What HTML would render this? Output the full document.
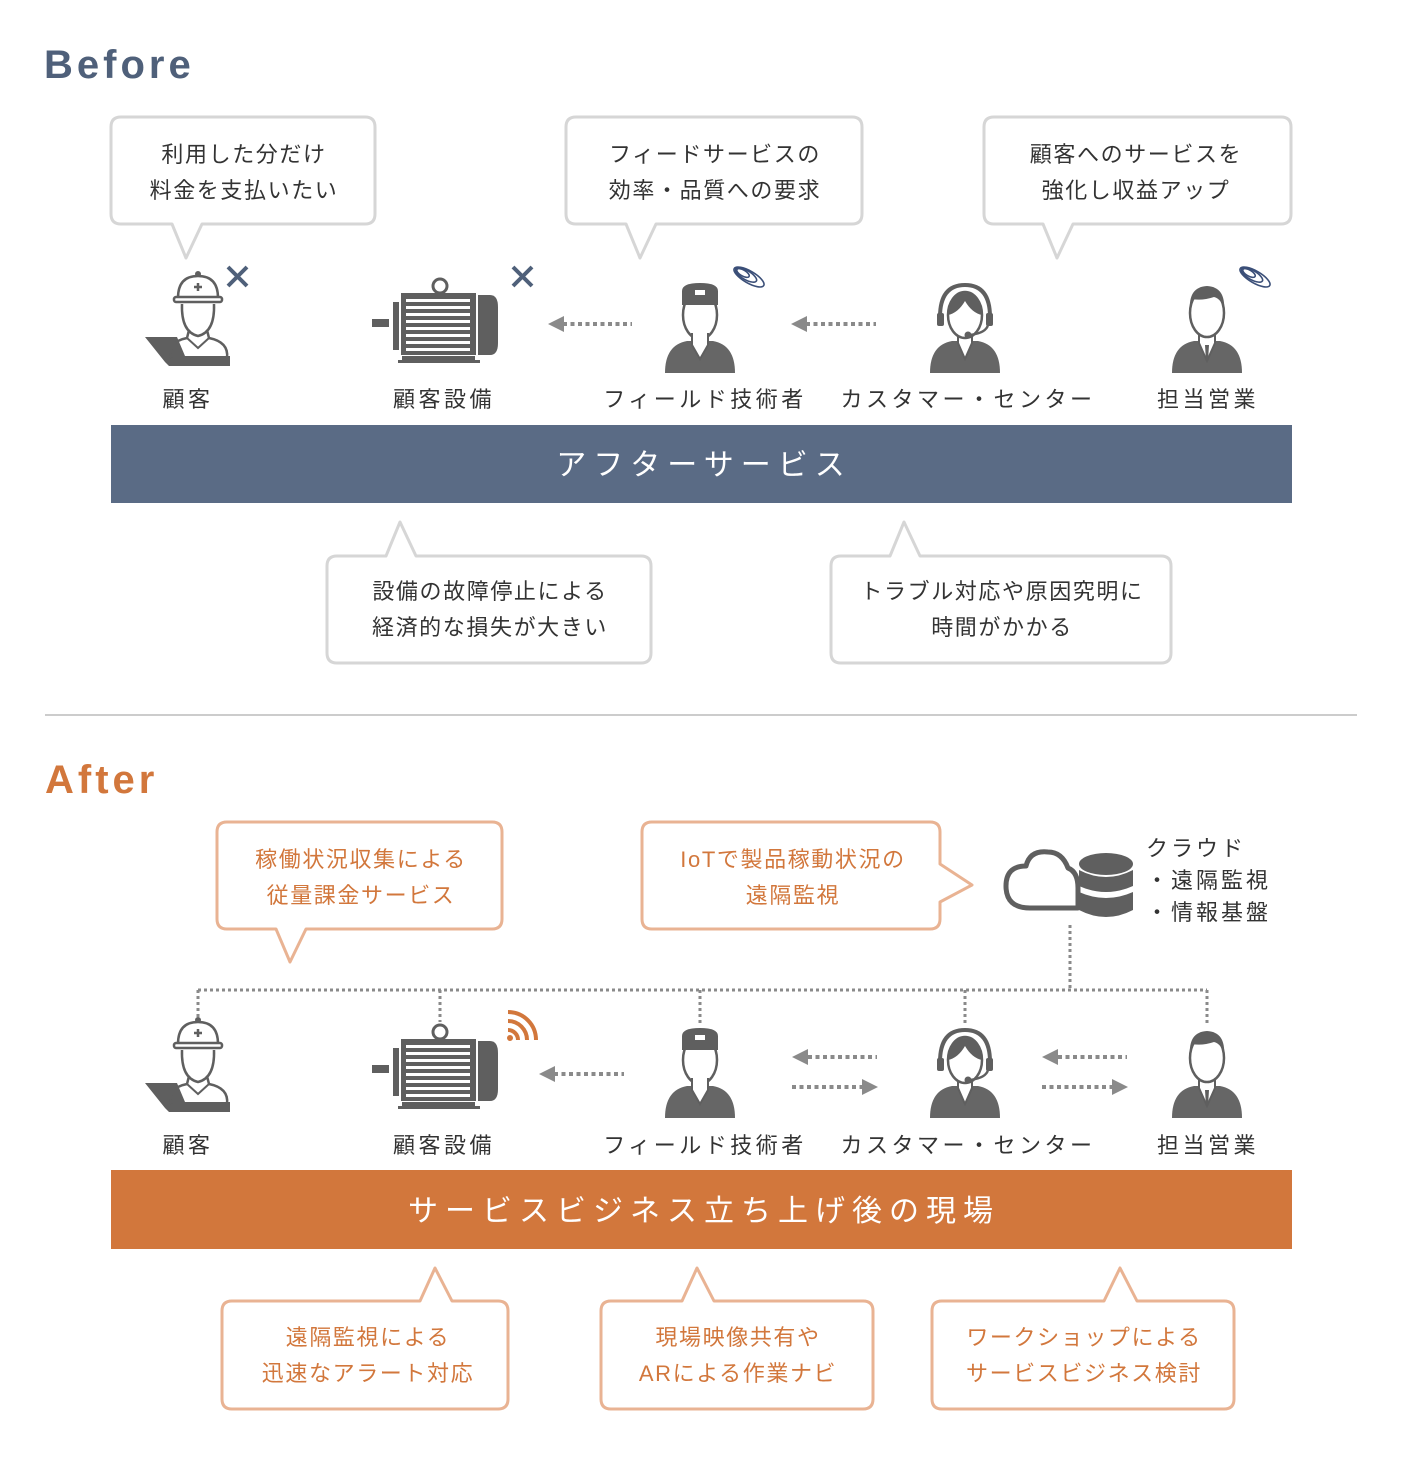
<!DOCTYPE html>
<html><head><meta charset="utf-8"><style>
html,body{margin:0;padding:0;background:#fff}
svg{display:block}
text{font-family:"Liberation Sans","Noto Sans CJK JP",sans-serif}
</style></head><body>
<svg width="1402" height="1462" viewBox="0 0 1402 1462" xmlns="http://www.w3.org/2000/svg">
<defs>
<g id="worker">
  <path d="M28,92 L8,67 L40,67 L48,86 L93,86 L93,96 L32,96 Z" fill="#5f5f5f"/>
  <path d="M41,28 Q41,6 61,6 Q81,6 81,28 Z" fill="#fff" stroke="#5f5f5f" stroke-width="2.5"/>
  <rect x="37" y="27" width="48" height="5" rx="2" fill="#fff" stroke="#5f5f5f" stroke-width="2.5"/>
  <circle cx="61" cy="4" r="3" fill="#5f5f5f"/>
  <path d="M57,17 h8 M61,13 v8" stroke="#5f5f5f" stroke-width="2.5"/>
  <path d="M45,34 Q44,62 61,66 Q78,62 77,34" fill="#fff" stroke="#5f5f5f" stroke-width="2.5"/>
  <path d="M52,60 L50,68 Q30,72 34,88 M70,60 L72,68 Q92,72 90,88" fill="none" stroke="#5f5f5f" stroke-width="2.5"/>
  <path d="M50,68 L61,78 L72,68" fill="none" stroke="#5f5f5f" stroke-width="2"/>
</g>
<g id="motor">
  <rect x="0" y="42" width="17" height="8" fill="#5f5f5f"/>
  <rect x="21" y="25" width="6" height="48" fill="#5f5f5f"/>
  <circle cx="68" cy="9" r="7" fill="#fff" stroke="#5f5f5f" stroke-width="3"/>
  <rect x="29" y="16" width="75" height="62" fill="#5f5f5f"/>
  <g fill="#fff"><rect x="34" y="22" width="64" height="3"/><rect x="34" y="29" width="64" height="3"/><rect x="34" y="36" width="64" height="3"/><rect x="34" y="43" width="64" height="3"/><rect x="34" y="50" width="64" height="3"/><rect x="34" y="57" width="64" height="3"/><rect x="34" y="64" width="64" height="3"/><rect x="34" y="71" width="64" height="3"/></g>
  <path d="M106,18 H118 Q126,18 126,30 V66 Q126,78 118,78 H106 Z" fill="#5f5f5f"/>
  <rect x="30" y="79" width="73" height="4" fill="#5f5f5f"/>
  <rect x="26" y="83" width="82" height="3" fill="#5f5f5f"/>
</g>
<g id="tech">
  <path d="M2,90 Q2,62 24,58 L50,58 Q72,62 72,90 Z" fill="#666"/>
  <ellipse cx="37" cy="32" rx="17" ry="24" fill="#fff" stroke="#5f5f5f" stroke-width="2.5"/>
  <path d="M29,50 V62 L37,76 L45,62 V50" fill="#fff" stroke="#5f5f5f" stroke-width="2"/>
  <path d="M19,22 V8 Q19,0 37,0 Q55,0 55,8 V22 Z" fill="#5f5f5f"/>
  <rect x="32" y="7" width="10" height="5" fill="#fff"/>
</g>
<g id="oper">
  <path d="M0,90 Q0,62 22,58 L48,58 Q70,62 70,90 Z" fill="#666"/>
  <path d="M28,52 V60 L35,76 L42,60 V52" fill="#fff" stroke="#5f5f5f" stroke-width="2"/>
  <ellipse cx="35" cy="32" rx="17" ry="23" fill="#fff" stroke="#5f5f5f" stroke-width="2.5"/>
  <path d="M18,32 Q18,10 35,10 Q52,10 52,32 Q42,30 35,18 Q28,30 18,32 Z" fill="#5f5f5f"/>
  <path d="M10,34 Q10,2 35,2 Q60,2 60,34" fill="none" stroke="#5f5f5f" stroke-width="4"/>
  <rect x="7" y="30" width="7" height="13" rx="2" fill="#5f5f5f"/><rect x="56" y="30" width="7" height="13" rx="2" fill="#5f5f5f"/>
  <path d="M58,42 Q56,50 40,52" fill="none" stroke="#5f5f5f" stroke-width="2.5"/><circle cx="38" cy="52" r="3.5" fill="#5f5f5f"/>
</g>
<g id="sales">
  <path d="M0,90 Q0,62 22,58 L48,58 Q70,62 70,90 Z" fill="#666"/>
  <path d="M27,52 V60 L35,78 L43,60 V52" fill="#fff" stroke="#5f5f5f" stroke-width="2"/>
  <path d="M33,62 L37,62 L36,78 L34,78 Z" fill="#5f5f5f"/>
  <ellipse cx="35" cy="30" rx="17" ry="24" fill="#fff" stroke="#5f5f5f" stroke-width="2.5"/>
  <path d="M18,28 Q16,4 35,3 Q54,4 52,28 Q50,16 42,14 Q30,18 20,16 Z" fill="#5f5f5f"/>
</g>
<g id="swirl" fill="none" stroke="#3b4f78" stroke-width="1.6">
  <ellipse cx="17" cy="15" rx="17" ry="6" transform="rotate(30 17 15)"/>
  <ellipse cx="14" cy="13" rx="12" ry="4.5" transform="rotate(30 14 13)"/>
  <ellipse cx="11" cy="11" rx="7" ry="3" transform="rotate(30 11 11)"/>
</g>
</defs>

<!-- BEFORE -->
<text x="44" y="78" font-size="40" font-weight="bold" fill="#4f607a" letter-spacing="4">Before</text>

<g fill="#fff" stroke="#d6d6d6" stroke-width="3" stroke-linejoin="round">
  <path d="M121,117 H365 Q375,117 375,127 V214 Q375,224 365,224 H202 L186,258 L172,224 H121 Q111,224 111,214 V127 Q111,117 121,117 Z"/>
  <path d="M576,117 H852 Q862,117 862,127 V214 Q862,224 852,224 H656 L640,258 L626,224 H576 Q566,224 566,214 V127 Q566,117 576,117 Z"/>
  <path d="M994,117 H1281 Q1291,117 1291,127 V214 Q1291,224 1281,224 H1073 L1057,258 L1043,224 H994 Q984,224 984,214 V127 Q984,117 994,117 Z"/>
  <path d="M337,556 H386 L400,522 L416,556 H641 Q651,556 651,566 V653 Q651,663 641,663 H337 Q327,663 327,653 V566 Q327,556 337,556 Z"/>
  <path d="M841,556 H890 L904,522 L920,556 H1161 Q1171,556 1171,566 V653 Q1171,663 1161,663 H841 Q831,663 831,653 V566 Q831,556 841,556 Z"/>
</g>
<g font-size="22" fill="#333" text-anchor="middle" letter-spacing="1.6">
  <text x="244" y="162">利用した分だけ</text><text x="244" y="198">料金を支払いたい</text>
  <text x="715" y="162">フィードサービスの</text><text x="715" y="198">効率・品質への要求</text>
  <text x="1136" y="162">顧客へのサービスを</text><text x="1136" y="198">強化し収益アップ</text>
  <text x="490" y="599">設備の故障停止による</text><text x="490" y="635">経済的な損失が大きい</text>
  <text x="1002" y="599">トラブル対応や原因究明に</text><text x="1002" y="635">時間がかかる</text>
</g>

<use href="#worker" x="137" y="270"/>
<use href="#motor" x="372" y="277"/>
<use href="#tech" x="663" y="283"/>
<use href="#oper" x="930" y="283"/>
<use href="#sales" x="1172" y="283"/>
<use href="#swirl" x="732" y="262"/>
<use href="#swirl" x="1238" y="262"/>
<g stroke="#4f607a" stroke-width="4"><path d="M228,267 L247,286 M247,267 L228,286"/><path d="M513,267 L532,286 M532,267 L513,286"/></g>

<g stroke="#8a8a8a" stroke-width="4" stroke-dasharray="4,3.5">
  <line x1="563" y1="324" x2="632" y2="324"/><line x1="806" y1="324" x2="876" y2="324"/>
</g>
<g fill="#8a8a8a"><path d="M548,324 L564,316 V332 Z"/><path d="M791,324 L807,316 V332 Z"/></g>

<g font-size="22" fill="#333" text-anchor="middle" letter-spacing="3.5">
  <text x="188" y="407">顧客</text><text x="444" y="407">顧客設備</text><text x="705" y="407">フィールド技術者</text><text x="968" y="407">カスタマー・センター</text><text x="1208" y="407">担当営業</text>
</g>
<rect x="111" y="425" width="1181" height="78" fill="#5a6b85"/>
<text x="704" y="475" font-size="30" fill="#fff" text-anchor="middle" letter-spacing="7">アフターサービス</text>

<line x1="45" y1="715" x2="1357" y2="715" stroke="#ccc" stroke-width="2"/>

<!-- AFTER -->
<text x="45" y="793" font-size="40" font-weight="bold" fill="#d2773c" letter-spacing="4">After</text>

<g fill="#fff" stroke="#e9b393" stroke-width="3" stroke-linejoin="round">
  <path d="M227,822 H492 Q502,822 502,832 V919 Q502,929 492,929 H306 L290,962 L276,929 H227 Q217,929 217,919 V832 Q217,822 227,822 Z"/>
  <path d="M652,822 H930 Q940,822 940,832 V864 L972,885 L940,902 V919 Q940,929 930,929 H652 Q642,929 642,919 V832 Q642,822 652,822 Z"/>
  <path d="M232,1301 H420 L435,1268 L452,1301 H498 Q508,1301 508,1311 V1399 Q508,1409 498,1409 H232 Q222,1409 222,1399 V1311 Q222,1301 232,1301 Z"/>
  <path d="M611,1301 H682 L697,1268 L714,1301 H863 Q873,1301 873,1311 V1399 Q873,1409 863,1409 H611 Q601,1409 601,1399 V1311 Q601,1301 611,1301 Z"/>
  <path d="M942,1301 H1104 L1120,1268 L1137,1301 H1224 Q1234,1301 1234,1311 V1399 Q1234,1409 1224,1409 H942 Q932,1409 932,1399 V1311 Q932,1301 942,1301 Z"/>
</g>
<g font-size="22" fill="#d2773c" text-anchor="middle" letter-spacing="1.6">
  <text x="361" y="867">稼働状況収集による</text><text x="361" y="903">従量課金サービス</text>
  <text x="793" y="867">IoTで製品稼動状況の</text><text x="793" y="903">遠隔監視</text>
  <text x="368" y="1345">遠隔監視による</text><text x="368" y="1381">迅速なアラート対応</text>
  <text x="738" y="1345">現場映像共有や</text><text x="738" y="1381">ARによる作業ナビ</text>
  <text x="1084" y="1345">ワークショップによる</text><text x="1084" y="1381">サービスビジネス検討</text>
</g>

<!-- cloud + db -->
<path d="M1030,908 Q1006,908 1006,886 Q1006,866 1026,866 Q1030,850 1048,852 Q1062,852 1068,868 Q1078,872 1078,888 V908 Z" fill="#fff" stroke="#5f5f5f" stroke-width="5" stroke-linejoin="round"/>
<g fill="#5f5f5f">
  <ellipse cx="1106" cy="864" rx="27" ry="11"/>
  <path d="M1079,870 Q1106,884 1133,870 V886 Q1106,898 1079,886 Z"/>
  <path d="M1079,892 Q1106,904 1133,892 V910 Q1106,924 1079,910 Z"/>
</g>
<g font-size="22" fill="#333" letter-spacing="3">
  <text x="1146" y="856">クラウド</text><text x="1146" y="888">・遠隔監視</text><text x="1146" y="920">・情報基盤</text>
</g>

<g stroke="#8a8a8a" stroke-width="3" stroke-dasharray="3,3" fill="none">
  <line x1="198" y1="990" x2="1207" y2="990"/>
  <line x1="1070" y1="925" x2="1070" y2="990"/>
  <line x1="198" y1="990" x2="198" y2="1018"/><line x1="440" y1="990" x2="440" y2="1022"/>
  <line x1="700" y1="990" x2="700" y2="1025"/><line x1="965" y1="990" x2="965" y2="1025"/><line x1="1207" y1="990" x2="1207" y2="1025"/>
</g>

<use href="#worker" x="137" y="1016"/>
<use href="#motor" x="372" y="1023"/>
<use href="#tech" x="663" y="1028"/>
<use href="#oper" x="930" y="1028"/>
<use href="#sales" x="1172" y="1028"/>
<g fill="none" stroke="#d2773c" stroke-width="4">
  <path d="M508,1030 A10,10 0 0 1 518,1040"/><path d="M508,1021 A19,19 0 0 1 527,1040"/><path d="M508,1012 A28,28 0 0 1 536,1040"/>
</g>
<circle cx="510" cy="1038" r="3" fill="#d2773c"/>

<g stroke="#8a8a8a" stroke-width="4" stroke-dasharray="4,3.5">
  <line x1="554" y1="1074" x2="624" y2="1074"/>
  <line x1="808" y1="1057" x2="877" y2="1057"/><line x1="792" y1="1087" x2="862" y2="1087"/>
  <line x1="1058" y1="1057" x2="1127" y2="1057"/><line x1="1042" y1="1087" x2="1112" y2="1087"/>
</g>
<g fill="#8a8a8a">
  <path d="M539,1074 L555,1066 V1082 Z"/>
  <path d="M792,1057 L808,1049 V1065 Z"/><path d="M878,1087 L862,1079 V1095 Z"/>
  <path d="M1042,1057 L1058,1049 V1065 Z"/><path d="M1128,1087 L1112,1079 V1095 Z"/>
</g>

<g font-size="22" fill="#333" text-anchor="middle" letter-spacing="3.5">
  <text x="188" y="1153">顧客</text><text x="444" y="1153">顧客設備</text><text x="705" y="1153">フィールド技術者</text><text x="968" y="1153">カスタマー・センター</text><text x="1208" y="1153">担当営業</text>
</g>
<rect x="111" y="1170" width="1181" height="79" fill="#d2773c"/>
<text x="704" y="1221" font-size="30" fill="#fff" text-anchor="middle" letter-spacing="7">サービスビジネス立ち上げ後の現場</text>
</svg>
</body></html>
